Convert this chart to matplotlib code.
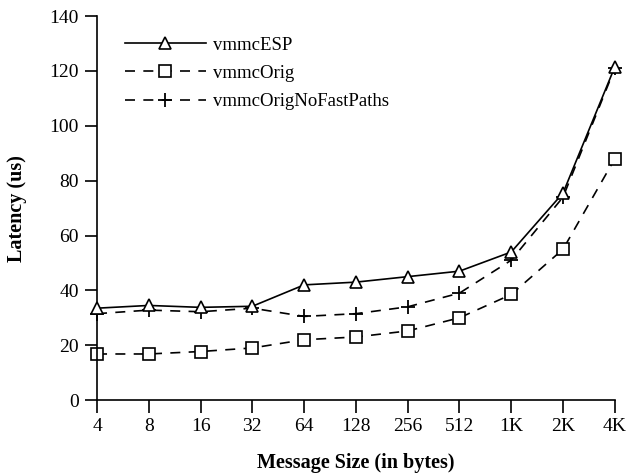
import matplotlib
matplotlib.use("Agg")
import matplotlib.pyplot as plt

plt.rcParams['font.family'] = ['Liberation Serif', 'DejaVu Serif']

sizes = ['4', '8', '16', '32', '64', '128', '256', '512', '1K', '2K', '4K']
esp = [33.5, 34.5, 33.8, 34.2, 42.0, 43.0, 45.0, 47.0, 54.0, 75.5, 121.5]
orig = [16.8, 16.8, 17.7, 19.0, 22.0, 23.0, 25.2, 30.0, 38.5, 55.0, 88.0]
nofast = [31.5, 32.8, 32.2, 33.5, 30.5, 31.5, 34.0, 39.0, 51.0, 74.0, 121.0]

fig = plt.figure(figsize=(6.28, 4.74), dpi=100)
ax = fig.add_axes([0.1545, 0.156, 0.8245, 0.81])

x = list(range(len(sizes)))
ax.plot(x, esp, color='black', lw=1.2, marker='^', ms=8, mfc='white', mec='black',
        mew=1.2, label='vmmcESP', zorder=3, clip_on=False)
ax.plot(x, orig, color='black', lw=1.2, ls=(0, (6, 5)), marker='s', ms=8, mfc='white',
        mec='black', mew=1.2, label='vmmcOrig', zorder=2, clip_on=False)
ax.plot(x, nofast, color='black', lw=1.2, ls=(0, (6, 5)), marker='+', ms=10,
        mew=1.3, label='vmmcOrigNoFastPaths', zorder=2, clip_on=False)

ax.set_xlim(0, len(sizes) - 1)
ax.set_ylim(0, 140)
ax.set_xticks(x)
ax.set_xticklabels(sizes)
ax.set_yticks(range(0, 141, 20))
ax.tick_params(direction='out', length=9, width=1.2, labelsize=14, colors='black', pad=4)
for s in ['top', 'right']:
    ax.spines[s].set_visible(False)
for s in ['left', 'bottom']:
    ax.spines[s].set_linewidth(1.2)

ax.set_xlabel('Message Size (in bytes)', fontsize=14.5, fontweight='bold')
ax.set_ylabel('Latency (us)', fontsize=14.5, fontweight='bold')
ax.xaxis.set_label_coords(0.5, -0.137)
ax.yaxis.set_label_coords(-0.135, 0.5)

ax.legend(loc='upper left', bbox_to_anchor=(0.054, 0.947), frameon=False, fontsize=13.5,
          handlelength=4.3, handletextpad=0.37, labelspacing=0.6, borderpad=0,
          borderaxespad=0)

fig.savefig('out.png', dpi=100)
